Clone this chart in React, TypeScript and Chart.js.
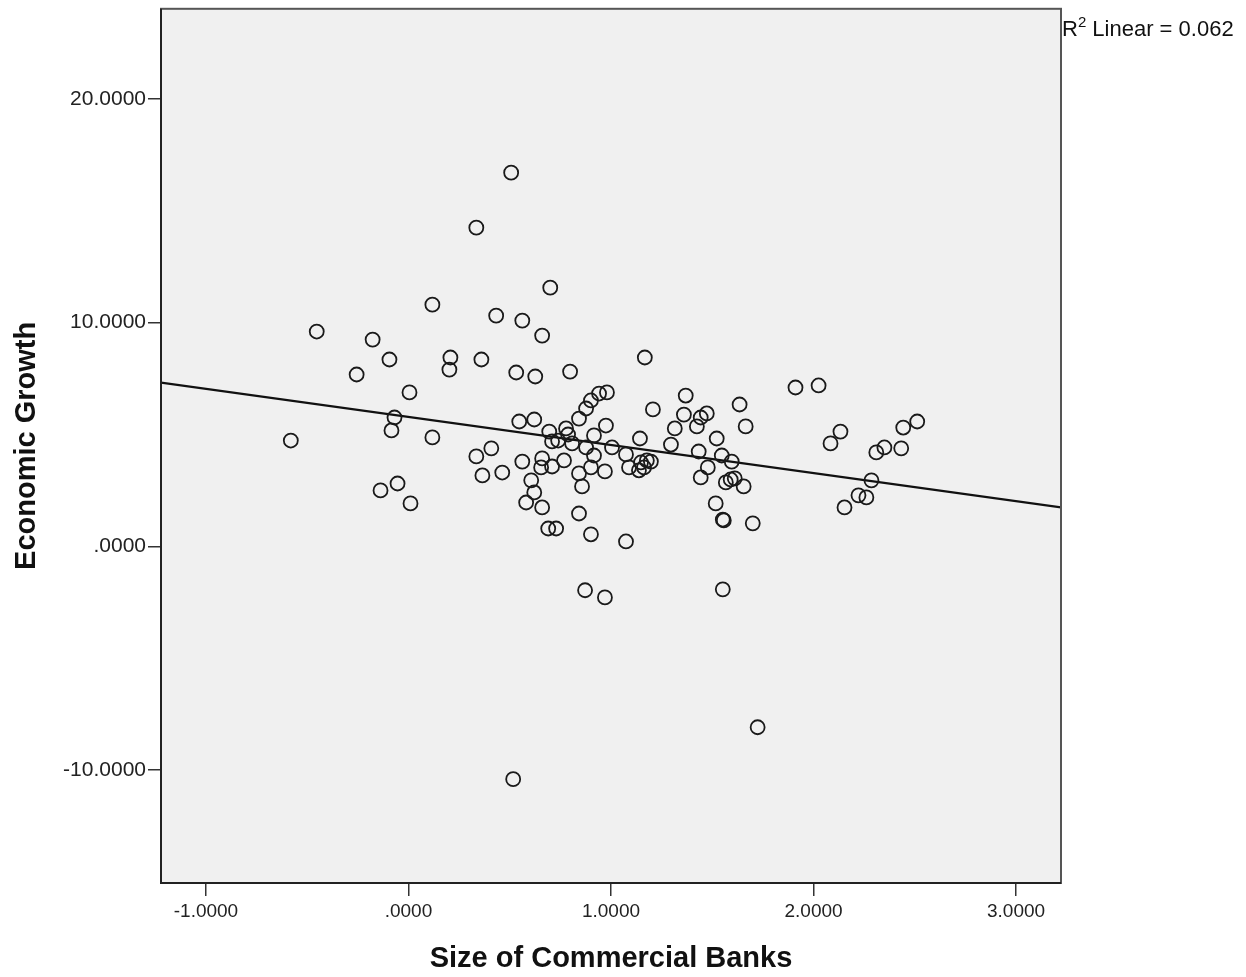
import React, { useEffect, useRef } from "react";
import { Chart, registerables } from "chart.js";

Chart.register(...registerables);

const xAxisTitle = "Size of Commercial Banks";
const yAxisTitle = "Economic Growth";
const r2Value = "0.062";

const xTickValues = [-1, 0, 1, 2, 3];
const xTickLabels = ["-1.0000", ".0000", "1.0000", "2.0000", "3.0000"];
const yTickValues = [-10, 0, 10, 20];
const yTickLabels = ["-10.0000", ".0000", "10.0000", "20.0000"];

const sizeOfBanks = [
  0.507, 0.335, 0.7, 0.118, 0.433, 0.562, -0.453, 0.66, -0.177, -0.094,
  0.207, 0.202, 0.36, -0.256, 0.532, 0.626, 0.798, 1.167, 1.911, 2.025,
  0.005, 1.369, 0.941, 0.98, 0.901, 0.877, 1.207, 1.635, 0.842, -0.069,
  0.547, 0.621, 1.473, 1.36, 1.443, 1.424, 1.665, 1.315, -0.084, -0.581,
  0.118, 0.695, 0.778, 0.788, 0.739, 0.709, 0.808, 0.975, 0.916, 0.877,
  1.005, 0.916, 1.143, 1.074, 1.296, 1.522, 1.433, 1.547, 1.596, 1.478,
  1.443, 1.567, 1.591, 1.611, 1.655, 1.517, 1.552, 1.557, 1.7, 1.552,
  1.724, 0.335, 0.409, 0.365, 0.463, 0.562, 0.66, 0.655, 0.709, 0.768,
  0.901, 0.97, 0.842, 0.857, 0.606, 0.621, 0.581, 0.66, 0.842, 0.69,
  0.729, 0.901, 1.074, -0.138, -0.054, 0.01, 0.872, 0.97, 0.517, 1.148,
  1.177, 1.197, 1.163, 1.138, 1.089, 2.133, 2.084, 2.512, 2.443, 2.35,
  2.31, 2.433, 2.286, 2.222, 2.261, 2.153,
];

const economicGrowth = [
  16.7, 14.24, 11.56, 10.8, 10.31, 10.09, 9.6, 9.42, 9.24, 8.35,
  8.44, 7.9, 8.35, 7.68, 7.77, 7.59, 7.81, 8.44, 7.1, 7.19,
  6.88, 6.74, 6.83, 6.88, 6.52, 6.16, 6.12, 6.34, 5.71, 5.76,
  5.58, 5.67, 5.94, 5.89, 5.76, 5.36, 5.36, 5.27, 5.18, 4.73,
  4.87, 5.13, 5.27, 5.0, 4.73, 4.69, 4.6, 5.4, 4.96, 4.42,
  4.42, 4.06, 4.82, 4.11, 4.55, 4.82, 4.24, 4.06, 3.79, 3.53,
  3.08, 2.86, 2.99, 3.04, 2.68, 1.92, 1.2, 1.16, 1.03, -1.92,
  -8.08, 4.02, 4.38, 3.17, 3.3, 3.79, 3.93, 3.53, 3.57, 3.84,
  3.53, 3.35, 3.26, 2.68, 2.95, 2.41, 1.96, 1.74, 1.47, 0.8,
  0.8, 0.54, 0.22, 2.5, 2.81, 1.92, -1.96, -2.28, -10.4, 3.75,
  3.84, 3.79, 3.53, 3.4, 3.53, 5.13, 4.6, 5.58, 5.31, 4.42,
  4.2, 4.38, 2.95, 2.28, 2.19, 1.74,
];

const fitLineX = [-1.222, 3.222];
const fitLineY = [7.32, 1.74];

const FONT = '"Liberation Sans", Arial, sans-serif';

const plotFrame = {
  id: "plotFrame",
  beforeDatasetsDraw(chart: any) {
    const { ctx, chartArea } = chart;
    ctx.save();
    ctx.fillStyle = "#f0f0f0";
    ctx.fillRect(chartArea.left, chartArea.top, chartArea.right - chartArea.left, chartArea.bottom - chartArea.top);
    ctx.restore();
  },
  afterDraw(chart: any) {
    const { ctx, chartArea } = chart;
    ctx.save();
    ctx.strokeStyle = "#555";
    ctx.lineWidth = 2;
    ctx.strokeRect(chartArea.left, chartArea.top, chartArea.right - chartArea.left, chartArea.bottom - chartArea.top);
    ctx.strokeStyle = "#222";
    ctx.beginPath();
    ctx.moveTo(chartArea.left, chartArea.top);
    ctx.lineTo(chartArea.left, chartArea.bottom);
    ctx.lineTo(chartArea.right, chartArea.bottom);
    ctx.stroke();
    // R² label
    ctx.fillStyle = "#111";
    ctx.textBaseline = "alphabetic";
    ctx.textAlign = "left";
    let x = chartArea.right + 1;
    const base = 36;
    ctx.font = `22px ${FONT}`;
    ctx.fillText("R", x, base);
    x += ctx.measureText("R").width;
    ctx.font = `15px ${FONT}`;
    ctx.fillText("2", x, base - 9);
    x += ctx.measureText("2").width;
    ctx.font = `22px ${FONT}`;
    ctx.fillText(" Linear = " + r2Value, x, base);
    ctx.restore();
  },
};

export default function App() {
  const ref = useRef<HTMLCanvasElement | null>(null);
  useEffect(() => {
    if (!ref.current) return;
    const points = sizeOfBanks.map((x, i) => ({ x, y: economicGrowth[i] }));
    const fit = fitLineX.map((x, i) => ({ x, y: fitLineY[i] }));
    const chart = new Chart(ref.current, {
      type: "scatter",
      data: {
        datasets: [
          {
            label: "fit",
            type: "line",
            data: fit,
            borderColor: "#111",
            borderWidth: 2.2,
            pointRadius: 0,
            fill: false,
            order: 1,
          } as any,
          {
            label: "points",
            data: points,
            pointRadius: 7,
            pointHoverRadius: 7,
            pointBorderWidth: 1.8,
            borderColor: "#1a1a1a",
            backgroundColor: "rgba(0,0,0,0)",
            pointBackgroundColor: "rgba(0,0,0,0)",
            order: 0,
          } as any,
        ],
      },
      options: {
        animation: false,
        responsive: false,
        events: [],
        layout: { padding: { top: 8, right: 185, bottom: 0, left: 0 } },
        plugins: { legend: { display: false }, tooltip: { enabled: false } },
        scales: {
          x: {
            type: "linear",
            min: -1.222,
            max: 3.222,
            afterBuildTicks: (axis: any) => {
              axis.ticks = xTickValues.map((v) => ({ value: v }));
            },
            afterFit: (axis: any) => {
              axis.height = 94;
              axis.paddingLeft = 0;
              axis.paddingRight = 0;
            },
            ticks: {
              callback: (_v: any, i: number) => xTickLabels[i],
              color: "#222",
              font: { family: FONT, size: 19 },
              padding: 4,
              maxRotation: 0,
              autoSkip: false,
            },
            grid: { drawOnChartArea: false, drawTicks: true, tickLength: 13, color: "#333", lineWidth: 1.5 },
            border: { display: true, color: "#222", width: 2 },
            title: {
              display: true,
              text: xAxisTitle,
              color: "#111",
              font: { family: FONT, size: 29, weight: "bold" },
              padding: { top: 0, bottom: 1 },
            },
          },
          y: {
            type: "linear",
            min: -15.04,
            max: 24.02,
            afterBuildTicks: (axis: any) => {
              axis.ticks = yTickValues.map((v) => ({ value: v }));
            },
            afterFit: (axis: any) => {
              axis.width = 161;
              axis.paddingTop = 0;
              axis.paddingBottom = 0;
            },
            ticks: {
              callback: (_v: any, i: number) => yTickLabels[i],
              color: "#222",
              font: { family: FONT, size: 21 },
              padding: 2,
              autoSkip: false,
            },
            grid: { drawOnChartArea: false, drawTicks: true, tickLength: 13, color: "#333", lineWidth: 1.5 },
            border: { display: true, color: "#222", width: 2 },
            title: {
              display: true,
              text: yAxisTitle,
              color: "#111",
              font: { family: FONT, size: 29, weight: "bold" },
              padding: { top: 10, bottom: 0 },
            },
          },
        },
      },
      plugins: [plotFrame],
    });
    return () => chart.destroy();
  }, []);
  return (
    <div style={{ position: "absolute", left: 0, top: 0, width: 1246, height: 977, background: "#fff" }}>
      <canvas ref={ref} width={1246} height={977} style={{ width: 1246, height: 977, display: "block" }} />
    </div>
  );
}
